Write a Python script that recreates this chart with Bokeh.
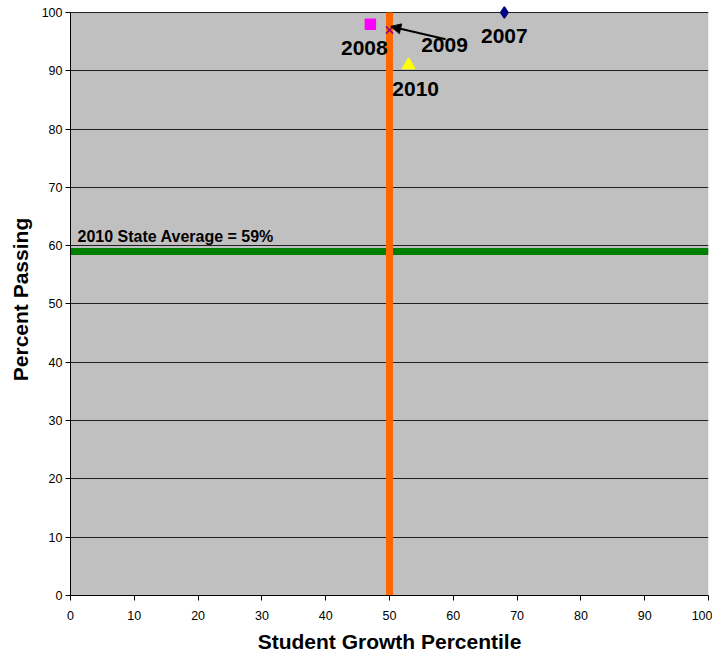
from bokeh.plotting import figure
from bokeh.models import ColumnDataSource, Arrow, NormalHead, FixedTicker, Label
from bokeh.embed import file_html
from bokeh.resources import INLINE
from bokeh.core.properties import value

years = ["2007", "2008", "2009", "2010"]
growth = [68, 47, 50, 53]
passing = [100, 98, 97, 91]
state_avg = 59
median_growth = 50
x_ticks = list(range(0, 101, 10))
y_ticks = list(range(0, 101, 10))

markers = ["diamond", "square", "x", "triangle"]
colors = ["#000080", "#FF00FF", "#800080", "#FFFF00"]
sizes = [11, 10, 10, 12]
lab_dx = [0, -6, 55, 7]
lab_dy = [24, 24, 15, 24]

FONT = "Liberation Sans"

p = figure(width=712, height=658, x_range=(0, 100), y_range=(0, 101.54),
           output_backend="svg", toolbar_location=None,
           min_border_left=70, min_border_right=4, min_border_top=3, min_border_bottom=63)
p.background_fill_color = "white"
p.border_fill_color = "white"
p.outline_line_color = None

# plot area fill
bg = p.quad(left=[x_ticks[0]], right=[x_ticks[-1]], bottom=[y_ticks[0]], top=[y_ticks[-1]],
            fill_color="#C0C0C0", line_color=None)
bg.level = "image"

p.xgrid.grid_line_color = None
p.ygrid.grid_line_color = "#202020"
p.ygrid.grid_line_width = 1
p.ygrid.ticker = FixedTicker(ticks=y_ticks)

for ax in (p.xaxis[0], p.yaxis[0]):
    ax.axis_line_color = "black"
    ax.major_tick_line_color = "black"
    ax.major_tick_out = 5
    ax.major_tick_in = 0
    ax.minor_tick_line_color = None
    ax.major_label_text_font = FONT
    ax.major_label_text_font_size = "12.5px"
    ax.major_label_text_color = "black"
    ax.axis_label_text_font = FONT
    ax.axis_label_text_font_style = "bold"
    ax.axis_label_text_font_size = "21px"
    ax.axis_label_text_color = "black"

p.xaxis.ticker = FixedTicker(ticks=x_ticks)
p.yaxis.ticker = FixedTicker(ticks=y_ticks)
p.yaxis.bounds = (0, 100)
p.xaxis.axis_label = "Student Growth Percentile"
p.yaxis.axis_label = "Percent Passing"
p.xaxis.major_label_standoff = 10
p.xaxis.axis_label_standoff = 7
p.yaxis.major_label_standoff = 3
p.yaxis.axis_label_standoff = 7

# reference lines
p.line([x_ticks[0], x_ticks[-1]], [state_avg, state_avg], line_color="#008000", line_width=7)
p.line([median_growth, median_growth], [y_ticks[0], y_ticks[-1]], line_color="#FF6600", line_width=7)

src = ColumnDataSource(dict(x=growth, y=passing, year=years, marker=markers,
                            color=colors, size=sizes, dx=lab_dx, dy=lab_dy))
p.scatter("x", "y", source=src, marker="marker", fill_color="color", line_color="color",
          size="size", line_width=1.5)

p.text("x", "y", text="year", source=src, x_offset="dx", y_offset="dy",
       text_font=value(FONT), text_font_style="bold", text_font_size="21px",
       text_align="center", text_baseline="middle", text_color="black")

p.add_layout(Arrow(end=NormalHead(size=10, fill_color="black", line_color="black"),
                   x_start=58.8, y_start=95.4, x_end=growth[2] + 0.2, y_end=passing[2] + 0.6,
                   line_color="black", line_width=2))

p.add_layout(Label(x=1.1, y=61.6, text=f"2010 State Average = {state_avg}%",
                   text_font=FONT, text_font_style="bold", text_font_size="16px",
                   text_color="black", text_baseline="alphabetic"))

open("out.html", "w").write(file_html(p, INLINE))
